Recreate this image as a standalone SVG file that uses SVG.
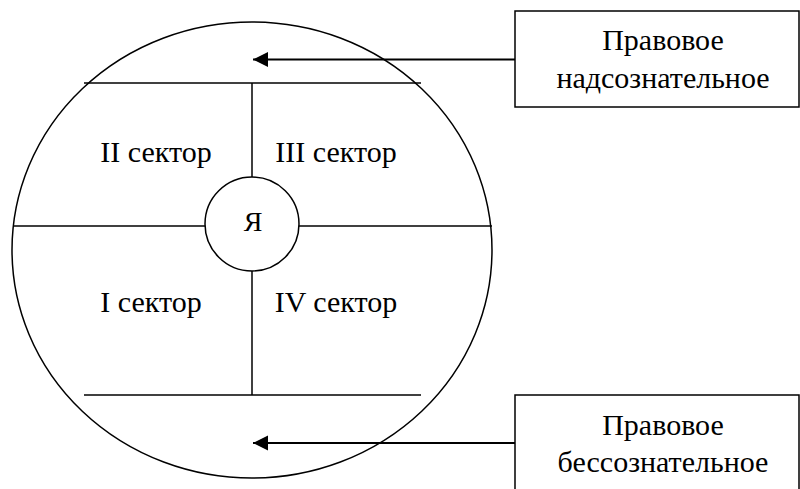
<svg xmlns="http://www.w3.org/2000/svg" width="800" height="489" viewBox="0 0 800 489">
<style>
.ln{stroke:#000;stroke-width:1.5;fill:none}
.box{stroke:#000;stroke-width:1.5;fill:#fff}
.ar{stroke:#000;stroke-width:2;fill:none}
text{font-family:"Liberation Serif","Times New Roman",serif;font-size:30px;fill:#000;text-anchor:middle}
</style>
<defs>
<marker id="ah" markerWidth="16" markerHeight="16" refX="15" refY="7.5" orient="auto" markerUnits="userSpaceOnUse" viewBox="0 0 16 16">
<path d="M15,7.5 L0,0 L0,15 Z" fill="#000"/>
</marker>
</defs>
<rect width="800" height="489" fill="#fff"/>
<g id="outer">
<ellipse class="ln" cx="252" cy="250" rx="240" ry="228"/>
<line class="ln" x1="84" y1="83" x2="421" y2="83"/>
<line class="ln" x1="84" y1="395" x2="421" y2="395"/>
<line class="ln" x1="252" y1="83" x2="252" y2="177"/>
<line class="ln" x1="252" y1="271" x2="252" y2="395"/>
<line class="ln" x1="13" y1="226" x2="205" y2="226"/>
<line class="ln" x1="299" y1="226" x2="492" y2="226"/>
</g>
<g id="ya">
<circle class="ln" cx="252" cy="224" r="47"/>
<text x="253" y="231" style="font-size:28px">Я</text>
</g>
<g id="sectors">
<text x="156" y="162">II сектор</text>
<text x="336" y="162">III сектор</text>
<text x="151" y="312">I сектор</text>
<text x="336" y="312">IV сектор</text>
</g>
<g id="top-box">
<rect class="box" x="515" y="11" width="284" height="96"/>
<text x="663" y="50">Правовое</text>
<text x="663" y="88">надсознательное</text>
</g>
<g id="bottom-box">
<rect class="box" x="515" y="395" width="284" height="100"/>
<text x="663" y="435">Правовое</text>
<text x="663" y="472">бессознательное</text>
</g>
<g id="connectors">
<line class="ar" x1="515" y1="59.5" x2="253" y2="59.5" marker-end="url(#ah)"/>
<line class="ar" x1="515" y1="443" x2="253" y2="443" marker-end="url(#ah)"/>
</g>
</svg>
